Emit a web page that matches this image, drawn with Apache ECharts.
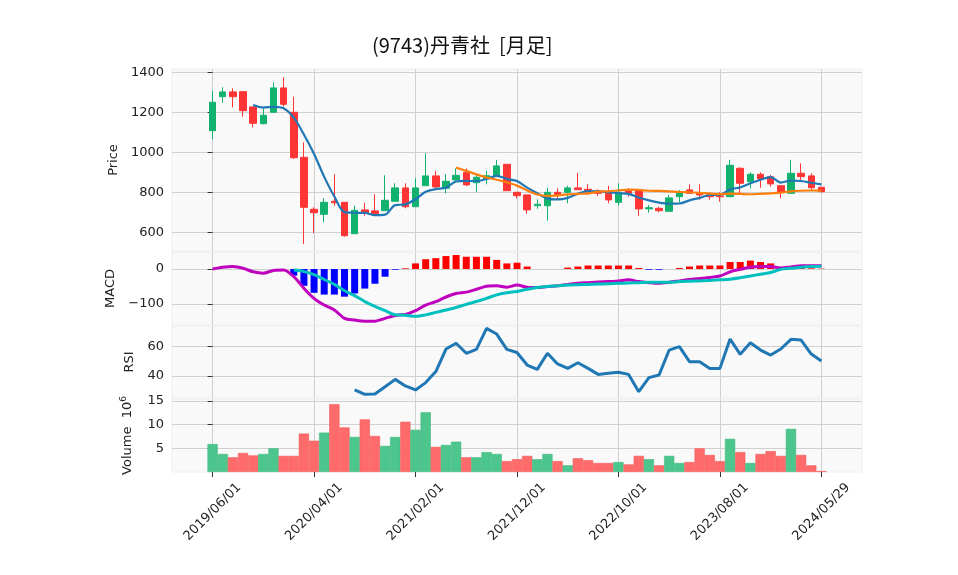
<!DOCTYPE html>
<html><head><meta charset="utf-8">
<script src="https://cdn.jsdelivr.net/npm/echarts@6/dist/echarts.min.js"></script>
<style>html,body{margin:0;padding:0;background:#fff}#c{width:958px;height:575px}</style>
</head><body><div id="c"></div>
<script>
const tickDates = ['2019/06/01','2020/04/01','2021/02/01','2021/12/01','2022/10/01','2023/08/01','2024/05/29'];
const opens = [1108,1278,1302,1303,1227,1143,1200,1322,1200,975,715,690,755,750,593,712,707,708,755,822,728,833,882,820,862,900,848,867,882,940,800,
 787,733,733,800,800,822,815,807,798,750,807,807,717,720,705,778,812,795,787,782,778,920,853,890,878,833,795,895,882,825];
const closes = [1250,1302,1278,1208,1145,1185,1322,1240,973,725,698,750,748,583,710,695,693,760,822,728,822,882,827,855,885,837,875,883,932,808,783,
 712,740,800,788,822,813,808,795,762,800,795,717,723,708,772,800,795,787,778,778,935,845,890,867,842,800,895,878,823,803];
const highs = [1307,1325,1320,1303,1227,1218,1350,1375,1278,1050,725,770,890,750,733,748,790,885,845,845,870,995,907,890,920,920,887,907,962,940,800,
 787,765,823,820,833,897,840,815,833,845,820,807,737,728,787,812,840,840,800,800,962,925,900,900,887,833,962,945,895,827];
const lows = [1065,1248,1225,1178,1125,1140,1200,1228,967,542,595,650,732,578,593,683,687,708,755,720,728,833,820,795,853,832,800,840,882,808,770,
 692,718,658,762,745,813,787,782,745,733,778,682,698,700,705,750,795,763,763,753,778,795,820,822,828,770,795,862,812,800];
const volumes = [5.9,3.8,3.1,4.0,3.5,3.8,5.0,3.4,3.4,8.1,6.6,8.3,14.3,9.4,7.4,11.1,7.6,5.5,7.4,10.6,8.9,12.6,5.3,5.7,6.4,3.1,3.1,4.2,3.8,2.3,2.7,
 3.4,2.7,3.8,2.3,1.4,2.9,2.5,1.9,1.9,2.1,1.6,3.4,2.7,1.4,3.4,1.9,2.1,5.0,3.6,2.3,7.0,4.2,1.9,3.8,4.4,3.4,9.1,3.6,1.4,0.2];
const macdLine = [0,5,7,2,-8,-12,-4,-3,-22,-55,-84,-103,-117,-141,-146,-149,-149,-141,-133,-130,-119,-103,-93,-80,-70,-66,-58,-49,-48,-52,-46,
 -52,-53,-50,-48,-44,-41,-39,-37,-36,-34,-31,-36,-39,-41,-38,-34,-30,-27,-24,-20,-8,-1,5,7,7,3,6,9,9,9];
const signalStart = 8;
const signalLine = [-3,-7,-16,-30,-44,-62,-76,-93,-107,-119,-131,-132,-135,-131,-124,-117,-110,-101,-93,-84,-74,-68,-64,-58,-53,-50,-48,-46,-45,-44,
 -43,-42,-41,-40,-39,-38,-38,-38,-36,-35,-34,-33,-31,-29,-25,-20,-15,-10,-1,2,5,7,8];
const histValues = [-19,-48,-68,-73,-73,-79,-70,-56,-42,-22,-2,2,16,28,31,37,40,35,35,35,26,16,18,7,0,0,0,4,7,10,
 10,10,10,10,3,-2,-2,0,3,7,10,10,10,20,20,24,20,16,4,4,4,2,1];
const rsiStart = 14;
const rsiValues = [30.5,27.5,27.7,32.7,37.7,33.2,30.5,35.5,43,58.4,62.3,55.5,58.2,72.5,68.6,58.2,56,47.5,44.5,55.5,48.2,45.2,49,45.2,41.1,41.8,42.5,41.1,29.3,38.9,
 40.7,57.7,60,49.8,49.8,45.2,45.2,65.2,54.8,62.7,57.7,54.3,58.4,65,64.5,55,50.2];
const maShort = 5, maLong = 25;

function ma(n){ return closes.map((c,i)=> i<n-1 ? null : [i, closes.slice(i-n+1,i+1).reduce((a,b)=>a+b,0)/n]).filter(d=>d); }
const UP='#12b26e', DN='#ff3434';
const candle = opens.map((o,i)=>[i,o,closes[i],lows[i],highs[i]]);
const vol = volumes.map((v,i)=>({value:[i,v], itemStyle:{color: closes[i]>=opens[i]?'#4cc68d':'#ff6b6b', borderColor: closes[i]>=opens[i]?'#3cb87e':'#f25a5a', borderWidth:0.6}}));
const macd = macdLine.map((v,i)=>[i,v]);
const sig = signalLine.map((v,i)=>[i+signalStart,v]);
const hist = histValues.map((v,i)=>({value:[i+signalStart,v], itemStyle:{color: v>=0?'#ff0000':'#0000ff'}}));
const rsi = rsiValues.map((v,i)=>[i+rsiStart,v]);

const L=172, W=690;
const grids = [{top:69,height:182},{top:252,height:73},{top:326,height:72},{top:399,height:73}]
  .map(g=>({left:L,width:W,top:g.top,height:g.height,show:true,backgroundColor:'#f9f9f9',borderColor:'#eeeeee',borderWidth:1}));
const xTicks=[0,10,20,30,40,50,60];
const xAxes = grids.map((g,k)=>({type:'value',gridIndex:k,min:-4,max:64,
  axisLine:{show:false},
  axisTick:{show:k===3,customValues:xTicks,length:5,lineStyle:{color:'#333'}},
  axisLabel:{show:k===3,customValues:xTicks,rotate:45,align:'center',verticalAlign:'middle',fontSize:13,color:'#222',margin:40,formatter:v=>tickDates[v/10]||''},
  splitLine:{show:true,lineStyle:{color:'#d0d0d0',width:1}}}));
function yax(k,min,max,ticks,name,extra){
  return Object.assign({type:'value',gridIndex:k,min:min,max:max,name:name,nameLocation:'middle',nameGap:44,nameRotate:90,
   nameTextStyle:{fontSize:13,color:'#222'},
   axisLine:{show:false},axisTick:{show:true,customValues:ticks,length:5,lineStyle:{color:'#333'}},
   axisLabel:{customValues:ticks,fontSize:13,color:'#222',margin:8,formatter:v=>String(v).replace('-','\u2212')},
   splitLine:{show:true,lineStyle:{color:'#d0d0d0',width:1}}},extra||{});
}
const yAxes=[
  yax(0,506.5,1416.5,[600,800,1000,1200,1400],'Price',{nameGap:48}),
  yax(1,-160,48.6,[-100,0],'MACD',{nameGap:48}),
  yax(2,25,74.1,[40,60],'RSI',{nameGap:34}),
  yax(3,0,15.4,[5,10,15],'Volume  10{s|6}',{nameGap:36,nameTextStyle:{fontSize:13,color:'#222',rich:{s:{fontSize:9,verticalAlign:'top',padding:[0,0,8,0]}}}})
];
const chart = echarts.init(document.getElementById('c'));
chart.setOption({
  animation:false,
  title:{text:'(9743)丹青社  [月足]',left:367,top:30,textStyle:{fontSize:20,fontWeight:'normal',color:'#111',fontFamily:'Noto Sans CJK JP'}},
  textStyle:{fontFamily:'DejaVu Sans'},
  grid:grids, xAxis:xAxes, yAxis:yAxes,
  series:[
    {type:'candlestick',xAxisIndex:0,yAxisIndex:0,data:candle,encode:{x:0,y:[1,2,3,4]},barWidth:7,
     itemStyle:{color:UP,color0:DN,borderColor:UP,borderColor0:DN,borderWidth:1}},
    {type:'line',xAxisIndex:0,yAxisIndex:0,data:ma(maShort),showSymbol:false,smooth:0.3,lineStyle:{color:'#1f77b4',width:2.2}},
    {type:'line',xAxisIndex:0,yAxisIndex:0,data:ma(maLong),showSymbol:false,smooth:0.3,lineStyle:{color:'#ff7f0e',width:2.2}},
    {type:'bar',xAxisIndex:1,yAxisIndex:1,data:hist,barWidth:7},
    {type:'line',xAxisIndex:1,yAxisIndex:1,data:macd,showSymbol:false,smooth:0.3,lineStyle:{color:'#bf00bf',width:3}},
    {type:'line',xAxisIndex:1,yAxisIndex:1,data:sig,showSymbol:false,smooth:0.3,lineStyle:{color:'#00bfbf',width:3}},
    {type:'line',xAxisIndex:2,yAxisIndex:2,data:rsi,showSymbol:false,lineStyle:{color:'#1f77b4',width:3}},
    {type:'bar',xAxisIndex:3,yAxisIndex:3,data:vol,barWidth:10.2}
  ]
});
</script></body></html>
